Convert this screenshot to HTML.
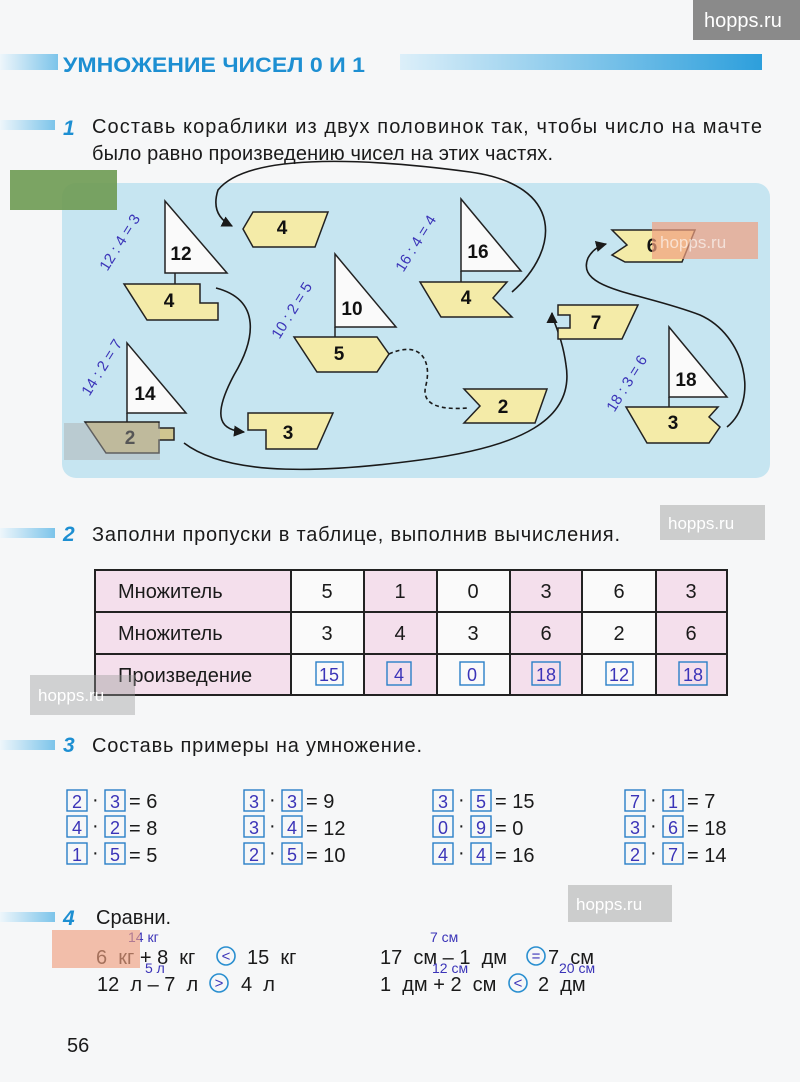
<!DOCTYPE html>
<html><head><meta charset="utf-8"><style>
html,body{margin:0;padding:0;background:#f6f7f8;}
svg{display:block;}
text{font-family:"Liberation Sans",sans-serif;}
.b{font-weight:bold;font-size:19px;fill:#111;}
.t{font-size:20px;fill:#1a1a1a;}
.hw{font-family:"DejaVu Sans","Liberation Sans",sans-serif;fill:#3b34b8;}
.hull{fill:#f4eba8;stroke:#222;stroke-width:1.5;}
.sail{fill:#fafafa;stroke:#222;stroke-width:1.5;}
.cur{fill:none;stroke:#1a1a1a;stroke-width:1.6;}
.box{fill:none;stroke:#2a7fc8;stroke-width:1.4;}
.wm{font-size:17px;fill:#fff;}
</style></head><body>
<svg width="800" height="1082" viewBox="0 0 800 1082" xmlns="http://www.w3.org/2000/svg">
<defs>
<linearGradient id="g1" x1="0" x2="1"><stop offset="0" stop-color="#dceff9"/><stop offset="1" stop-color="#2d9fdc"/></linearGradient>
<linearGradient id="g0" x1="0" x2="1"><stop offset="0" stop-color="#eef6fb"/><stop offset="1" stop-color="#7cc4ea"/></linearGradient>
<marker id="ar" viewBox="0 0 10 10" refX="9" refY="5" markerWidth="7" markerHeight="7" orient="auto"><path d="M0,0 L10,5 L0,10 z" fill="#1a1a1a"/></marker>
</defs>
<rect x="693" y="0" width="107" height="40" fill="#8a8a8a"/>
<text x="704" y="27" class="wm" style="font-size:20px">hopps.ru</text>
<rect x="0" y="54" width="58" height="16" fill="url(#g0)"/>
<rect x="400" y="54" width="362" height="16" fill="url(#g1)"/>
<text x="63" y="72" font-size="21" font-weight="bold" fill="#1d8fd2" textLength="302" lengthAdjust="spacingAndGlyphs">УМНОЖЕНИЕ ЧИСЕЛ 0 И 1</text>
<rect x="0" y="120" width="55" height="10" fill="url(#g0)"/>
<text x="63" y="135" font-size="21" font-weight="bold" font-style="italic" fill="#1d8fd2">1</text>
<text x="92" y="133" class="t" textLength="670" lengthAdjust="spacing">Составь кораблики из двух половинок так, чтобы число на мачте</text>
<text x="92" y="160" class="t" textLength="461" lengthAdjust="spacing">было равно произведению чисел на этих частях.</text>
<rect x="62" y="183" width="708" height="295" rx="14" fill="#c6e5f1"/>
<path class="cur" marker-end="url(#ar)" d="M512,292 C560,250 565,185 470,172 C380,160 250,150 218,190 Q210,215 232,226"/>
<path class="cur" marker-end="url(#ar)" d="M216,288 C262,300 255,340 234,375 C210,420 222,430 244,432"/>
<path class="cur" marker-end="url(#ar)" d="M184,443 C230,478 330,472 420,460 C520,447 575,420 566,365 C562,335 552,320 552,313"/>
<path class="cur" stroke-dasharray="4,3" d="M389,354 C420,340 432,360 426,385 C420,406 442,410 468,408"/>
<path class="cur" marker-end="url(#ar)" d="M727,427 C760,400 745,335 700,315 C640,292 575,290 588,258 Q594,247 606,244"/>
<line x1="175" y1="273" x2="175" y2="284" stroke="#222" stroke-width="1.5"/>
<polygon class="sail" points="165,201 165,273 227,273"/>
<polygon class="hull" points="124,284 200,284 200,303 218,303 218,320 147,320"/>
<text x="181" y="260" class="b" text-anchor="middle">12</text>
<text x="169" y="307" class="b" text-anchor="middle">4</text>
<polygon class="hull" points="243,229 253,212 328,212 315,247 253,247"/>
<text x="282" y="234" class="b" text-anchor="middle">4</text>
<line x1="127" y1="413" x2="127" y2="422" stroke="#222" stroke-width="1.5"/>
<polygon class="sail" points="127,343 127,413 186,413"/>
<polygon class="hull" style="fill:#cfc690" points="85,422 159,422 159,428 174,428 174,440 159,440 159,453 106,453"/>
<text x="145" y="400" class="b" text-anchor="middle">14</text>
<text x="130" y="444" class="b" text-anchor="middle">2</text>
<line x1="335" y1="327" x2="335" y2="337" stroke="#222" stroke-width="1.5"/>
<polygon class="sail" points="335,254 335,327 396,327"/>
<polygon class="hull" points="294,337 377,337 389,354 377,372 317,372"/>
<text x="352" y="315" class="b" text-anchor="middle">10</text>
<text x="339" y="360" class="b" text-anchor="middle">5</text>
<line x1="461" y1="271" x2="461" y2="282" stroke="#222" stroke-width="1.5"/>
<polygon class="sail" points="461,199 461,271 521,271"/>
<polygon class="hull" points="420,282 507,282 493,298 512,317 441,317"/>
<text x="478" y="258" class="b" text-anchor="middle">16</text>
<text x="466" y="304" class="b" text-anchor="middle">4</text>
<polygon class="hull" points="248,413 333,413 317,449 266,449 266,430 248,430"/>
<text x="288" y="439" class="b" text-anchor="middle">3</text>
<polygon class="hull" points="464,389 547,389 535,423 464,423 480,406"/>
<text x="503" y="413" class="b" text-anchor="middle">2</text>
<polygon class="hull" points="558,305 638,305 622,339 558,339 558,328 570,328 570,315 558,315"/>
<text x="596" y="329" class="b" text-anchor="middle">7</text>
<polygon class="hull" points="612,230 695,230 682,262 625,262 612,255 627,245"/>
<text x="652" y="252" class="b" text-anchor="middle">6</text>
<line x1="669" y1="397" x2="669" y2="407" stroke="#222" stroke-width="1.5"/>
<polygon class="sail" points="669,327 669,397 727,397"/>
<polygon class="hull" points="626,407 718,407 709,417 720,427 709,443 647,443"/>
<text x="686" y="386" class="b" text-anchor="middle">18</text>
<text x="673" y="429" class="b" text-anchor="middle">3</text>
<g class="hw" font-size="15">
<text transform="translate(124,245) rotate(-58)" text-anchor="middle">12 : 4 = 3</text>
<text transform="translate(106,370) rotate(-58)" text-anchor="middle">14 : 2 = 7</text>
<text transform="translate(296,313) rotate(-58)" text-anchor="middle">10 : 2 = 5</text>
<text transform="translate(420,246) rotate(-58)" text-anchor="middle">16 : 4 = 4</text>
<text transform="translate(631,386) rotate(-58)" text-anchor="middle">18 : 3 = 6</text>
</g>
<rect x="10" y="170" width="107" height="40" fill="#6e9a52" opacity="0.9"/>
<rect x="652" y="222" width="106" height="37" fill="#f0a080" opacity="0.7"/>
<text x="660" y="248" class="wm" opacity="0.6">hopps.ru</text>
<rect x="64" y="423" width="96" height="37" fill="#aaa" opacity="0.45"/>
<rect x="0" y="528" width="55" height="10" fill="url(#g0)"/>
<text x="63" y="541" font-size="21" font-weight="bold" font-style="italic" fill="#1d8fd2">2</text>
<text x="92" y="541" class="t" textLength="528" lengthAdjust="spacing">Заполни пропуски в таблице, выполнив вычисления.</text>
<rect x="660" y="505" width="105" height="35" fill="#999" opacity="0.45"/>
<text x="668" y="529" class="wm">hopps.ru</text>
<rect x="95" y="570" width="196" height="125" fill="#f4dfec"/>
<rect x="364" y="570" width="73" height="125" fill="#f4dfec"/>
<rect x="510" y="570" width="72" height="125" fill="#f4dfec"/>
<rect x="656" y="570" width="71" height="125" fill="#f4dfec"/>
<rect x="291" y="570" width="73" height="125" fill="#fafafa"/>
<rect x="437" y="570" width="73" height="125" fill="#fafafa"/>
<rect x="582" y="570" width="74" height="125" fill="#fafafa"/>
<g stroke="#222" stroke-width="2" fill="none">
<rect x="95" y="570" width="632" height="125"/>
<line x1="95" y1="612" x2="727" y2="612"/><line x1="95" y1="654" x2="727" y2="654"/>
<line x1="291" y1="570" x2="291" y2="695"/><line x1="364" y1="570" x2="364" y2="695"/>
<line x1="437" y1="570" x2="437" y2="695"/><line x1="510" y1="570" x2="510" y2="695"/>
<line x1="582" y1="570" x2="582" y2="695"/><line x1="656" y1="570" x2="656" y2="695"/>
</g>
<g class="t" text-anchor="middle">
<text x="118" y="598" text-anchor="start">Множитель</text>
<text x="118" y="640" text-anchor="start">Множитель</text>
<text x="118" y="682" text-anchor="start">Произведение</text>
<text x="327" y="598">5</text><text x="400" y="598">1</text><text x="473" y="598">0</text><text x="546" y="598">3</text><text x="619" y="598">6</text><text x="691" y="598">3</text>
<text x="327" y="640">3</text><text x="400" y="640">4</text><text x="473" y="640">3</text><text x="546" y="640">6</text><text x="619" y="640">2</text><text x="691" y="640">6</text>
</g>
<rect class="box" x="316" y="662" width="27" height="23"/><rect class="box" x="387" y="662" width="24" height="23"/>
<rect class="box" x="460" y="662" width="24" height="23"/><rect class="box" x="532" y="662" width="28" height="23"/>
<rect class="box" x="606" y="662" width="27" height="23"/><rect class="box" x="679" y="662" width="28" height="23"/>
<g class="hw" font-size="18" text-anchor="middle">
<text x="329" y="681">15</text><text x="399" y="681">4</text><text x="472" y="681">0</text><text x="546" y="681">18</text><text x="619" y="681">12</text><text x="693" y="681">18</text>
</g>
<rect x="30" y="675" width="105" height="40" fill="#999" opacity="0.4"/>
<text x="38" y="701" class="wm">hopps.ru</text>
<rect x="0" y="740" width="55" height="10" fill="url(#g0)"/>
<text x="63" y="752" font-size="21" font-weight="bold" font-style="italic" fill="#1d8fd2">3</text>
<text x="92" y="752" class="t" textLength="330" lengthAdjust="spacing">Составь примеры на умножение.</text>
<g class="t">
<g transform="translate(67,0)">
<rect class="box" x="0" y="790" width="20" height="21"/><rect class="box" x="38" y="790" width="20" height="21"/><text x="25" y="806">·</text><text x="62" y="808">= 6</text>
<rect class="box" x="0" y="816" width="20" height="21"/><rect class="box" x="38" y="816" width="20" height="21"/><text x="25" y="832">·</text><text x="62" y="835">= 8</text>
<rect class="box" x="0" y="843" width="20" height="21"/><rect class="box" x="38" y="843" width="20" height="21"/><text x="25" y="859">·</text><text x="62" y="862">= 5</text>
<g class="hw" font-size="18" text-anchor="middle"><text x="10" y="808">2</text><text x="48" y="808">3</text><text x="10" y="834">4</text><text x="48" y="834">2</text><text x="10" y="861">1</text><text x="48" y="861">5</text></g>
</g>
<g transform="translate(244,0)">
<rect class="box" x="0" y="790" width="20" height="21"/><rect class="box" x="38" y="790" width="20" height="21"/><text x="25" y="806">·</text><text x="62" y="808">= 9</text>
<rect class="box" x="0" y="816" width="20" height="21"/><rect class="box" x="38" y="816" width="20" height="21"/><text x="25" y="832">·</text><text x="62" y="835">= 12</text>
<rect class="box" x="0" y="843" width="20" height="21"/><rect class="box" x="38" y="843" width="20" height="21"/><text x="25" y="859">·</text><text x="62" y="862">= 10</text>
<g class="hw" font-size="18" text-anchor="middle"><text x="10" y="808">3</text><text x="48" y="808">3</text><text x="10" y="834">3</text><text x="48" y="834">4</text><text x="10" y="861">2</text><text x="48" y="861">5</text></g>
</g>
<g transform="translate(433,0)">
<rect class="box" x="0" y="790" width="20" height="21"/><rect class="box" x="38" y="790" width="20" height="21"/><text x="25" y="806">·</text><text x="62" y="808">= 15</text>
<rect class="box" x="0" y="816" width="20" height="21"/><rect class="box" x="38" y="816" width="20" height="21"/><text x="25" y="832">·</text><text x="62" y="835">= 0</text>
<rect class="box" x="0" y="843" width="20" height="21"/><rect class="box" x="38" y="843" width="20" height="21"/><text x="25" y="859">·</text><text x="62" y="862">= 16</text>
<g class="hw" font-size="18" text-anchor="middle"><text x="10" y="808">3</text><text x="48" y="808">5</text><text x="10" y="834">0</text><text x="48" y="834">9</text><text x="10" y="861">4</text><text x="48" y="861">4</text></g>
</g>
<g transform="translate(625,0)">
<rect class="box" x="0" y="790" width="20" height="21"/><rect class="box" x="38" y="790" width="20" height="21"/><text x="25" y="806">·</text><text x="62" y="808">= 7</text>
<rect class="box" x="0" y="816" width="20" height="21"/><rect class="box" x="38" y="816" width="20" height="21"/><text x="25" y="832">·</text><text x="62" y="835">= 18</text>
<rect class="box" x="0" y="843" width="20" height="21"/><rect class="box" x="38" y="843" width="20" height="21"/><text x="25" y="859">·</text><text x="62" y="862">= 14</text>
<g class="hw" font-size="18" text-anchor="middle"><text x="10" y="808">7</text><text x="48" y="808">1</text><text x="10" y="834">3</text><text x="48" y="834">6</text><text x="10" y="861">2</text><text x="48" y="861">7</text></g>
</g>
</g>
<rect x="0" y="912" width="55" height="10" fill="url(#g0)"/>
<text x="63" y="925" font-size="21" font-weight="bold" font-style="italic" fill="#1d8fd2">4</text>
<text x="96" y="924" class="t">Сравни.</text>
<rect x="568" y="885" width="104" height="37" fill="#999" opacity="0.45"/>
<text x="576" y="910" class="wm">hopps.ru</text>
<g class="t">
<text x="96" y="964" xml:space="preserve">6  кг + 8  кг</text>
<text x="247" y="964" xml:space="preserve">15  кг</text>
<text x="97" y="991" xml:space="preserve">12  л – 7  л</text>
<text x="241" y="991" xml:space="preserve">4  л</text>
<text x="380" y="964" xml:space="preserve">17  см – 1  дм</text>
<text x="548" y="964" xml:space="preserve">7  см</text>
<text x="380" y="991" xml:space="preserve">1  дм + 2  см</text>
<text x="538" y="991" xml:space="preserve">2  дм</text>
</g>
<g fill="none" stroke="#2a8fd0" stroke-width="1.6">
<circle cx="226" cy="956" r="9"/><circle cx="219" cy="983" r="9"/><circle cx="536" cy="956" r="9"/><circle cx="518" cy="983" r="9"/>
</g>
<g class="hw" font-size="15" text-anchor="middle">
<text x="226" y="961">&lt;</text><text x="219" y="988">&gt;</text><text x="536" y="961">=</text><text x="518" y="988">&lt;</text>
</g>
<g class="hw" font-size="14">
<text x="128" y="942">14 кг</text><text x="145" y="973">5 л</text><text x="430" y="942">7 см</text><text x="432" y="973">12 см</text><text x="559" y="973">20 см</text>
</g>
<rect x="52" y="930" width="88" height="38" fill="#f0a080" opacity="0.65"/>
<text x="67" y="1052" class="t">56</text>
</svg>
</body></html>
